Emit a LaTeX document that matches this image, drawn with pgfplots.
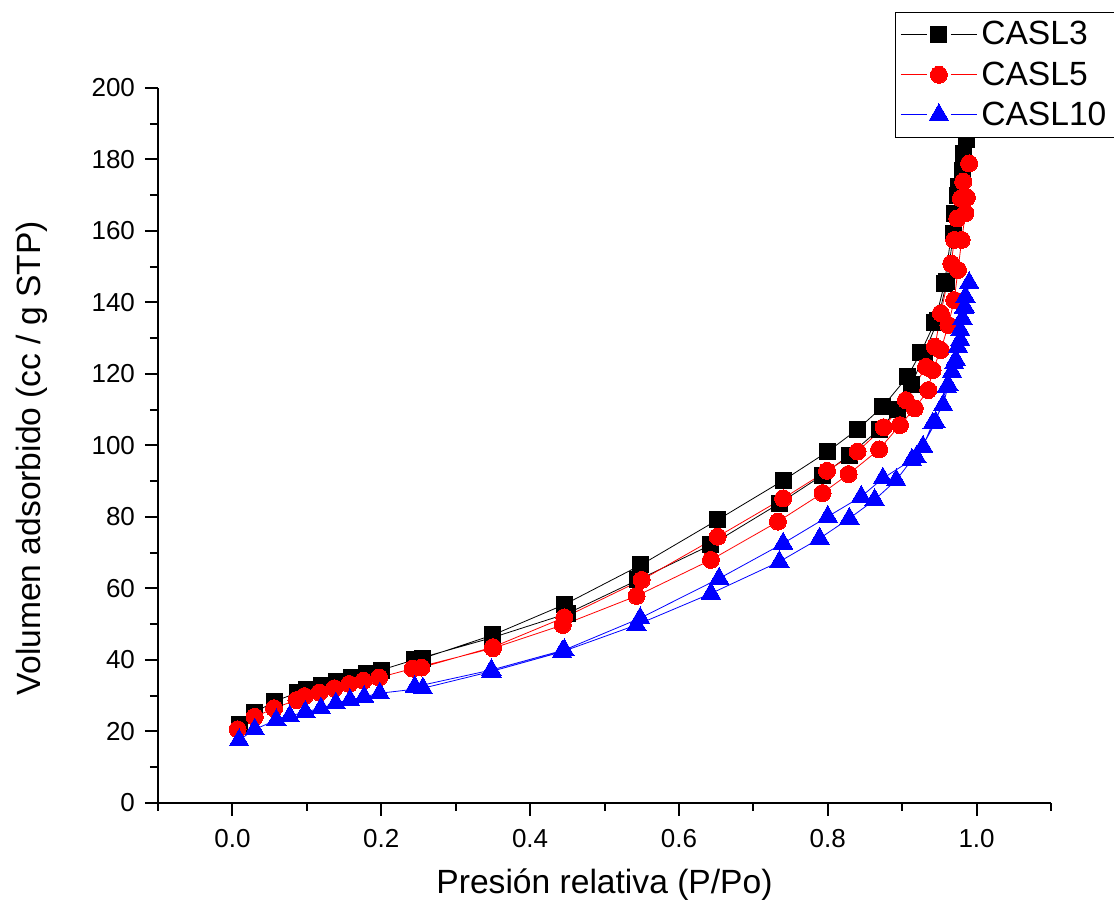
\documentclass[border=0pt]{standalone}
\usepackage{pgfplots}
\pgfplotsset{compat=1.18}
\usepackage{fontspec}
\setmainfont{Liberation Sans}
\begin{document}
\begin{tikzpicture}
\useasboundingbox (-79pt,-53pt) rectangle (478pt,401.5pt);
\begin{axis}[
  scale only axis,
  width=446.5pt, height=357.5pt,
  xmin=-0.1, xmax=1.1, ymin=0, ymax=200,
  axis x line*=bottom, axis y line*=left,
  axis line style={line width=1pt},
  every tick/.style={line width=1pt, black},
  tick align=outside,
  major tick length=6.5pt, minor tick length=4pt,
  xtick={0,0.2,0.4,0.6,0.8,1.0},
  minor xtick={-0.1,0.1,0.3,0.5,0.7,0.9,1.1},
  ytick={0,20,...,200},
  minor ytick={10,30,...,190},
  /pgf/number format/assume math mode=true,
  tick label style={font=\fontsize{13}{15}\selectfont},
  xticklabel style={yshift=-3pt, /pgf/number format/fixed, /pgf/number format/fixed zerofill, /pgf/number format/precision=1},
  yticklabel style={xshift=-1.5pt},
  xlabel={Presión relativa (P/Po)},
  ylabel={Volumen adsorbido (cc / g STP)},
  label style={font=\fontsize{16.8}{20}\selectfont},
  x label style={at={(axis description cs:0.5,-0.1147)}, anchor=center},
  y label style={at={(axis description cs:-0.1411,0.4825)}, anchor=center, rotate=0},
  clip=false,
  legend style={at={(axis description cs:0.8253,1.1063)}, anchor=north west,
    draw=black, line width=0.5pt, fill=white,
    font=\fontsize{16.8}{19}\selectfont, row sep=2.8pt, inner sep=2.5pt,
    cells={anchor=west}},
  legend image code/.code={%
    \draw[#1, mark=none] (0pt,0pt)--(13pt,0pt) (25pt,0pt)--(38pt,0pt);
    \draw[#1] plot coordinates {(19pt,0pt)};},
]
\addplot[black, line width=0.4pt, mark=square*, mark size=4pt, mark options={solid, line width=0pt}] coordinates {
(0.009,22.0)(0.030,25.3)(0.057,28.5)(0.087,30.8)(0.100,31.8)(0.120,32.9)(0.140,33.9)(0.160,35.1)(0.180,36.1)(0.200,37.2)(0.245,40.1)
(0.350,46.3)(0.450,53.0)(0.545,62.4)(0.643,72.2)(0.735,83.8)(0.793,91.7)(0.829,97.3)(0.869,104.5)(0.894,110.0)(0.913,117.0)
(0.930,126.0)(0.948,135.0)(0.960,146.0)(0.969,159.3)(0.975,170.0)(0.981,177.0)(0.987,185.5)
(0.982,181.7)(0.976,172.4)(0.970,165.0)(0.957,145.4)(0.944,134.5)(0.925,126.0)(0.907,119.2)(0.874,110.9)(0.840,104.5)
(0.800,98.3)(0.740,90.2)(0.652,79.2)(0.549,66.6)(0.446,55.5)(0.350,47.0)(0.255,40.4)};
\addlegendentry{CASL3}
\addplot[red, line width=0.4pt, mark=*, mark size=4.25pt, mark options={solid, line width=0pt}] coordinates {
(0.007,20.6)(0.030,24.1)(0.056,26.5)(0.086,28.8)(0.097,29.9)(0.117,30.9)(0.137,32.1)(0.157,33.3)(0.176,34.2)(0.197,35.1)(0.242,37.6)
(0.350,43.3)(0.444,49.8)(0.543,57.9)(0.643,68.0)(0.733,78.7)(0.793,86.7)(0.828,92.0)(0.869,98.9)(0.897,105.7)(0.917,110.4)
(0.935,115.5)(0.941,121.1)(0.952,126.7)(0.962,133.7)(0.970,140.7)(0.975,149.1)(0.980,157.5)(0.985,165.0)(0.987,169.4)(0.990,178.9)
(0.982,173.8)(0.979,169.1)(0.974,163.5)(0.970,157.5)(0.966,150.9)(0.952,137.0)(0.944,127.6)(0.932,122.0)(0.905,112.7)(0.875,105.1)
(0.840,98.3)(0.799,92.9)(0.740,85.2)(0.652,74.5)(0.550,62.4)(0.446,51.9)(0.350,43.6)(0.254,37.9)};
\addlegendentry{CASL5}
\addplot[blue, line width=0.4pt, mark=triangle*, mark size=5.6pt, mark options={solid, line width=0pt}] coordinates {
(0.009,17.6)(0.030,20.6)(0.059,23.2)(0.077,24.3)(0.098,25.5)(0.119,26.5)(0.139,27.9)(0.158,28.8)(0.177,29.7)(0.198,30.7)(0.256,32.1)
(0.348,36.8)(0.443,42.3)(0.543,49.8)(0.643,58.6)(0.735,67.5)(0.789,74.0)(0.829,79.6)(0.863,84.8)(0.892,90.3)(0.913,96.0)
(0.928,99.7)(0.941,106.2)(0.955,111.3)(0.962,116.9)(0.967,120.6)(0.972,124.0)(0.975,127.6)(0.978,132.3)(0.981,135.5)(0.983,138.4)(0.985,141.6)(0.990,145.5)
(0.984,138.8)(0.978,129.5)(0.970,123.0)(0.960,116.4)(0.945,106.5)(0.919,96.8)(0.874,90.8)(0.845,85.7)(0.800,80.1)(0.740,72.6)
(0.654,62.8)(0.548,51.7)(0.446,42.8)(0.348,37.2)(0.245,32.5)};
\addlegendentry{CASL10}
\end{axis}
\end{tikzpicture}
\end{document}
